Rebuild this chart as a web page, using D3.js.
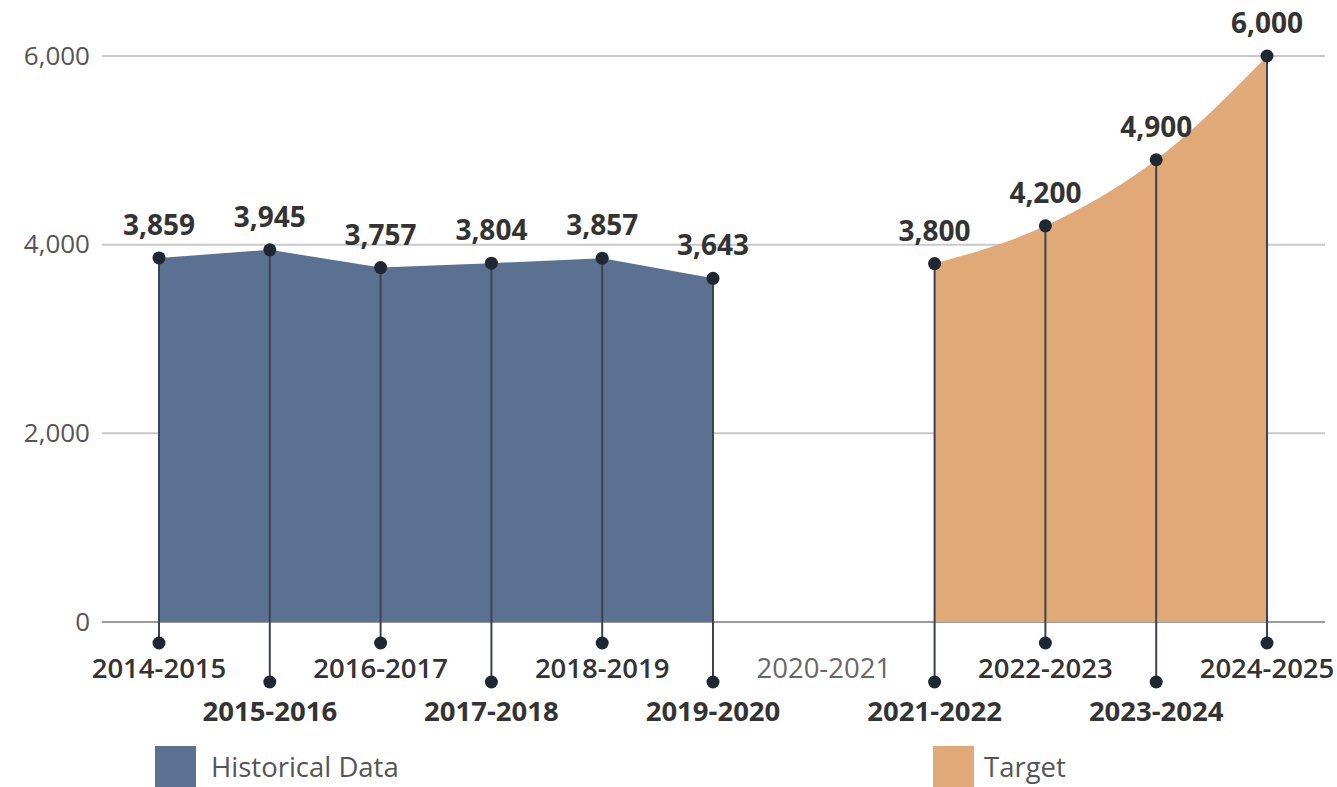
<!DOCTYPE html>
<html>
<head>
<meta charset="utf-8">
<script src="https://cdn.jsdelivr.net/npm/d3@7"></script>
<style>
  html, body { margin: 0; padding: 0; background: #fff; }
  svg { display: block; font-family: "Open Sans", sans-serif; }
</style>
</head>
<body>
<svg id="chart" width="1337" height="787"></svg>
<script>
// School years along the x axis
const categories = ["2014-2015", "2015-2016", "2016-2017", "2017-2018", "2018-2019", "2019-2020",
                    "2020-2021", "2021-2022", "2022-2023", "2023-2024", "2024-2025"];
// Historical enrolment and targets
const historicalYears = ["2014-2015", "2015-2016", "2016-2017", "2017-2018", "2018-2019", "2019-2020"];
const historicalValues = [3859, 3945, 3757, 3804, 3857, 3643];
const targetYears = ["2021-2022", "2022-2023", "2023-2024", "2024-2025"];
const targetValues = [3800, 4200, 4900, 6000];
const yTicks = [0, 2000, 4000, 6000];
const legendLabels = ["Historical Data", "Target"];

const svg = d3.select("#chart");

const x = d3.scalePoint().domain(categories).range([159, 1267]);
const y = d3.scaleLinear().domain([0, 6000]).range([622, 56]);

const fmt = d3.format(",");
const BLUE = "#5b7191";
const ORANGE = "#e1a977";
const DOT = "#1f2832";
const STEM = "#3b434c";

// Horizontal gridlines with left-hand labels
const yAxis = d3.axisLeft(y).tickValues(yTicks).tickFormat(fmt).tickSize(0).tickPadding(12);
const gAxis = svg.append("g").attr("transform", "translate(102,0)").call(yAxis);
gAxis.select(".domain").remove();
gAxis.selectAll("text")
  .attr("font-size", 26).attr("fill", "#555").attr("font-family", "Open Sans, sans-serif");
svg.append("g").selectAll("line").data(yTicks).join("line")
  .attr("x1", 102).attr("x2", 1325)
  .attr("y1", d => y(d)).attr("y2", d => y(d))
  .attr("stroke", d => d === 0 ? "#9a9a9a" : "#c9c9c9").attr("stroke-width", 2);

const hist = historicalYears.map((c, i) => ({ c, v: historicalValues[i] }));
const targ = targetYears.map((c, i) => ({ c, v: targetValues[i] }));

// Filled areas
svg.append("path").datum(hist)
  .attr("fill", BLUE)
  .attr("d", d3.area().x(d => x(d.c)).y0(y(0)).y1(d => y(d.v)));
svg.append("path").datum(targ)
  .attr("fill", ORANGE)
  .attr("d", d3.area().curve(d3.curveMonotoneX).x(d => x(d.c)).y0(y(0)).y1(d => y(d.v)));

// Stems: every point drops to a marker under the axis; rows alternate
const all = hist.concat(targ);
const rowOf = c => categories.indexOf(c) % 2 === 0 ? 0 : 1;
const stemEnd = [643, 682];
const labelY = [678, 721];

svg.append("g").selectAll("line").data(all).join("line")
  .attr("x1", d => x(d.c)).attr("x2", d => x(d.c))
  .attr("y1", d => y(d.v)).attr("y2", d => stemEnd[rowOf(d.c)])
  .attr("stroke", STEM).attr("stroke-width", 2);

svg.append("g").selectAll("circle.top").data(all).join("circle")
  .attr("cx", d => x(d.c)).attr("cy", d => y(d.v)).attr("r", 6.5).attr("fill", DOT);
svg.append("g").selectAll("circle.bottom").data(all).join("circle")
  .attr("cx", d => x(d.c)).attr("cy", d => stemEnd[rowOf(d.c)]).attr("r", 6.5).attr("fill", DOT);

// Value labels
svg.append("g").selectAll("text").data(all).join("text")
  .attr("x", d => x(d.c)).attr("y", d => y(d.v) - 23)
  .attr("text-anchor", "middle").attr("font-size", 28).attr("font-weight", 700)
  .attr("fill", "#333").text(d => fmt(d.v));

// Category labels, staggered in two rows
svg.append("g").selectAll("text").data(categories).join("text")
  .attr("x", c => x(c)).attr("y", c => labelY[rowOf(c)])
  .attr("text-anchor", "middle").attr("font-size", 27.5)
  .attr("font-weight", c => c === "2020-2021" ? 400 : (rowOf(c) === 0 ? 600 : 700))
  .attr("fill", c => c === "2020-2021" ? "#666" : "#333")
  .text(c => c);

// Legend
const legend = [
  { label: legendLabels[0], color: BLUE, x: 155, gap: 56 },
  { label: legendLabels[1], color: ORANGE, x: 933, gap: 51 }
];
const lg = svg.append("g").selectAll("g").data(legend).join("g")
  .attr("transform", d => `translate(${d.x},746)`);
lg.append("rect").attr("width", 41).attr("height", 41).attr("fill", d => d.color);
lg.append("text").attr("x", d => d.gap).attr("y", 31).attr("font-size", 27.5)
  .attr("fill", "#555").text(d => d.label);
</script>
</body>
</html>
